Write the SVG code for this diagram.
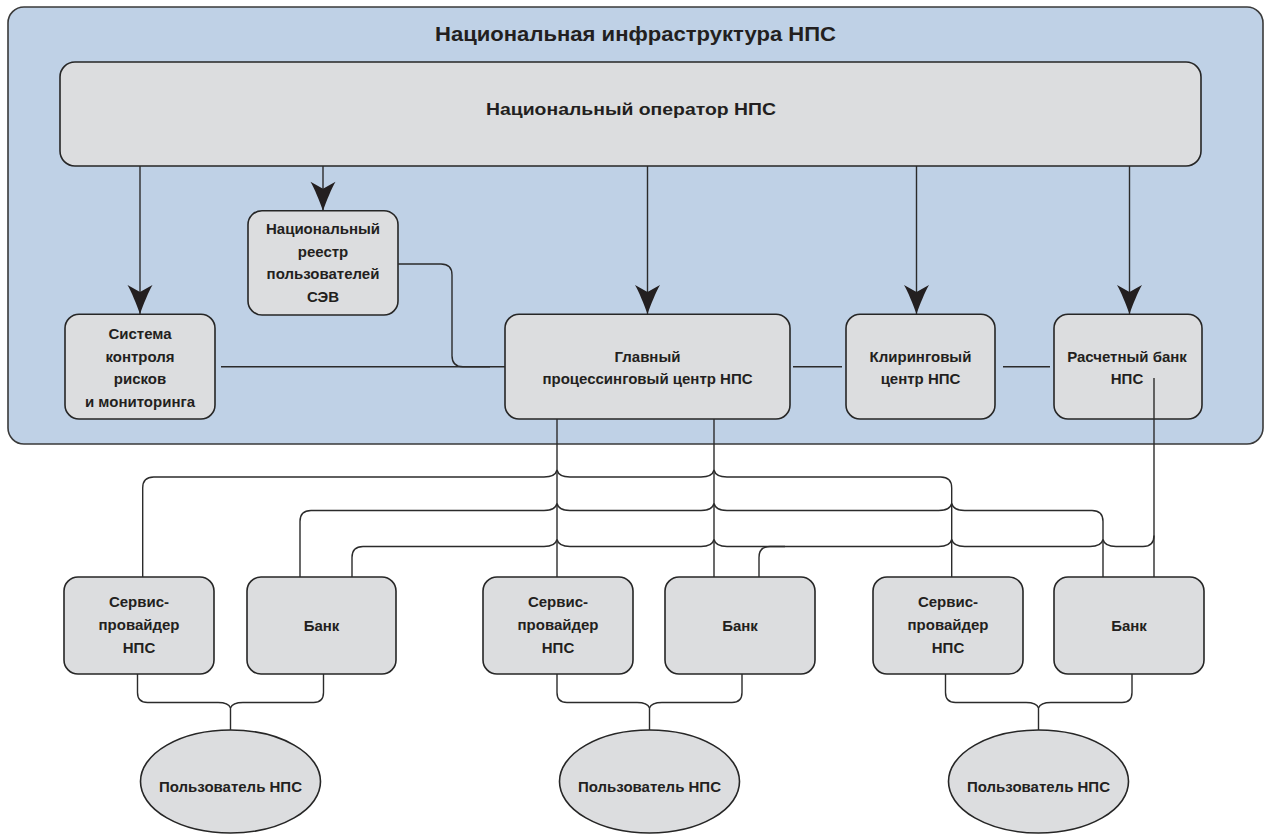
<svg xmlns="http://www.w3.org/2000/svg" width="1266" height="834" viewBox="0 0 1266 834">
<style>
.box{fill:#dcdddf;stroke:#262626;stroke-width:1.6}
.outer{fill:#bfd1e6;stroke:#3a3a3a;stroke-width:1.6}
.t{font-family:"Liberation Sans",Arial,sans-serif;font-weight:bold;font-size:15px;fill:#231f20;text-anchor:middle}
.c{fill:none;stroke:#2b2b2b;stroke-width:1.4}
</style>
<defs>
<marker id="ah" markerUnits="userSpaceOnUse" viewBox="-30 -13 31 26" markerWidth="31" markerHeight="26" refX="0" refY="0" orient="auto" overflow="visible">
<path d="M0,0 C-10,-3.5 -22,-8.5 -29,-12.5 L-22,0 L-29,12.5 C-22,8.5 -10,3.5 0,0 Z" fill="#231f20"/>
</marker>
</defs>
<rect width="1266" height="834" fill="#ffffff"/>
<g id="infra">
<rect class="outer" x="8" y="7" width="1255" height="437" rx="16"/>
<text class="t" x="635.5" y="40.5" style="font-size:19.5px" textLength="401" lengthAdjust="spacingAndGlyphs">Национальная инфраструктура НПС</text>
</g>
<g id="operator">
<rect class="box" x="60" y="62" width="1141" height="104" rx="15"/>
<text class="t" x="631" y="115" style="font-size:16.5px" textLength="290" lengthAdjust="spacingAndGlyphs">Национальный оператор НПС</text>
</g>
<g id="registry">
<rect class="box" x="248" y="210.7" width="150" height="104.3" rx="14"/>
<text class="t" x="323" y="234">Национальный</text>
<text class="t" x="323" y="256.5">реестр</text>
<text class="t" x="323" y="279">пользователей</text>
<text class="t" x="323" y="301.5">СЭВ</text>
</g>
<g id="risk">
<rect class="box" x="65" y="314.3" width="150" height="104.7" rx="14"/>
<text class="t" x="140" y="339">Система</text>
<text class="t" x="140" y="361.5">контроля</text>
<text class="t" x="140" y="384">рисков</text>
<text class="t" x="140" y="406.5">и мониторинга</text>
</g>
<g id="processing">
<rect class="box" x="505" y="314.3" width="285" height="104.7" rx="14"/>
<text class="t" x="647.5" y="361.5">Главный</text>
<text class="t" x="647.5" y="383.5">процессинговый центр НПС</text>
</g>
<g id="clearing">
<rect class="box" x="846" y="314.3" width="149" height="104.7" rx="14"/>
<text class="t" x="920.5" y="361.5">Клиринговый</text>
<text class="t" x="920.5" y="383.5">центр НПС</text>
</g>
<g id="settlement">
<rect class="box" x="1054" y="314.3" width="148" height="104.7" rx="14"/>
<text class="t" x="1127" y="361.5">Расчетный банк</text>
<text class="t" x="1127" y="383.5">НПС</text>
</g>
<g id="sp1">
<rect class="box" x="64" y="577" width="150" height="97" rx="14"/>
<text class="t" x="139" y="607">Сервис-</text>
<text class="t" x="139" y="630">провайдер</text>
<text class="t" x="139" y="653">НПС</text>
</g>
<g id="bank1">
<rect class="box" x="247" y="577" width="149" height="97" rx="14"/>
<text class="t" x="321.5" y="631">Банк</text>
</g>
<g id="sp2">
<rect class="box" x="483" y="577" width="150" height="97" rx="14"/>
<text class="t" x="558" y="607">Сервис-</text>
<text class="t" x="558" y="630">провайдер</text>
<text class="t" x="558" y="653">НПС</text>
</g>
<g id="bank2">
<rect class="box" x="665" y="577" width="150" height="97" rx="14"/>
<text class="t" x="740" y="631">Банк</text>
</g>
<g id="sp3">
<rect class="box" x="873" y="577" width="150" height="97" rx="14"/>
<text class="t" x="948" y="607">Сервис-</text>
<text class="t" x="948" y="630">провайдер</text>
<text class="t" x="948" y="653">НПС</text>
</g>
<g id="bank3">
<rect class="box" x="1054" y="577" width="150" height="97" rx="14"/>
<text class="t" x="1129" y="631">Банк</text>
</g>
<g id="user1">
<ellipse class="box" cx="230.5" cy="781.5" rx="90" ry="51.5"/>
<text class="t" x="230.5" y="792">Пользователь НПС</text>
</g>
<g id="user2">
<ellipse class="box" cx="649.5" cy="781.5" rx="90" ry="51.5"/>
<text class="t" x="649.5" y="792">Пользователь НПС</text>
</g>
<g id="user3">
<ellipse class="box" cx="1038.5" cy="781.5" rx="90" ry="51.5"/>
<text class="t" x="1038.5" y="792">Пользователь НПС</text>
</g>
<g id="connectors">
<path class="c" d="M140,166 V314" marker-end="url(#ah)"/>
<path class="c" d="M323,166 V210.7" marker-end="url(#ah)"/>
<path class="c" d="M647.5,166 V314" marker-end="url(#ah)"/>
<path class="c" d="M916.5,166 V314" marker-end="url(#ah)"/>
<path class="c" d="M1129.5,166 V314" marker-end="url(#ah)"/>
<path class="c" d="M221,366.7 H505"/>
<path class="c" d="M398,264 H441 Q452,264 452,275 V355.7 Q452,366.7 463,366.7 H490"/>
<path class="c" d="M793,366.7 H842"/>
<path class="c" d="M1003,366.7 H1050"/>
<path class="c" d="M557,419 V577"/>
<path class="c" d="M714,419 V577"/>
<path class="c" d="M1154,378 V577"/>
<path class="c" d="M142.7,577 V488 Q142.7,477 153.7,477 H544 C552,477 556,474 557,470 C558,474 562,477 570,477 H701 C709,477 713,474 714,470 C715,474 719,477 727,477 H940.7 Q951.7,477 951.7,488 V577"/>
<path class="c" d="M300,577 V521.5 Q300,510.5 311,510.5 H544 C552,510.5 556,507.5 557,503.5 C558,507.5 562,510.5 570,510.5 H701 C709,510.5 713,507.5 714,503.5 C715,507.5 719,510.5 727,510.5 H938.7 C946.7,510.5 950.7,507.5 951.7,503.5 C952.7,507.5 956.7,510.5 964.7,510.5 H1092 Q1103,510.5 1103,521.5 V577"/>
<path class="c" d="M352,577 V557.5 Q352,546.5 363,546.5 H544 C552,546.5 556,543.5 557,539.5 C558,543.5 562,546.5 570,546.5 H701 C709,546.5 713,543.5 714,539.5 C715,543.5 719,546.5 727,546.5 H938.7 C946.7,546.5 950.7,543.5 951.7,539.5 C952.7,543.5 956.7,546.5 964.7,546.5 H1090 C1098,546.5 1102,543.5 1103,539.5 C1104,543.5 1108,546.5 1116,546.5 H1143 Q1154,546.5 1154,535.5"/>
<path class="c" d="M759,577 V557.5 Q759,546.5 770,546.5 H785"/>
<path class="c" d="M137.5,674 V692.5 Q137.5,702.5 147.5,702.5 H218 C225,702.5 229,704 230.5,708 C232,704 236,702.5 243,702.5 H313.5 Q323.5,702.5 323.5,692.5 V674 M230.5,708 V730"/>
<path class="c" d="M557,674 V692.5 Q557,702.5 567,702.5 H637 C644,702.5 648,704 649.5,708 C651,704 655,702.5 662,702.5 H732 Q742,702.5 742,692.5 V674 M649.5,708 V730"/>
<path class="c" d="M945.5,674 V692.5 Q945.5,702.5 955.5,702.5 H1026 C1033,702.5 1037,704 1038.5,708 C1040,704 1044,702.5 1051,702.5 H1122 Q1132,702.5 1132,692.5 V674 M1038.5,708 V730"/>
</g>
</svg>
